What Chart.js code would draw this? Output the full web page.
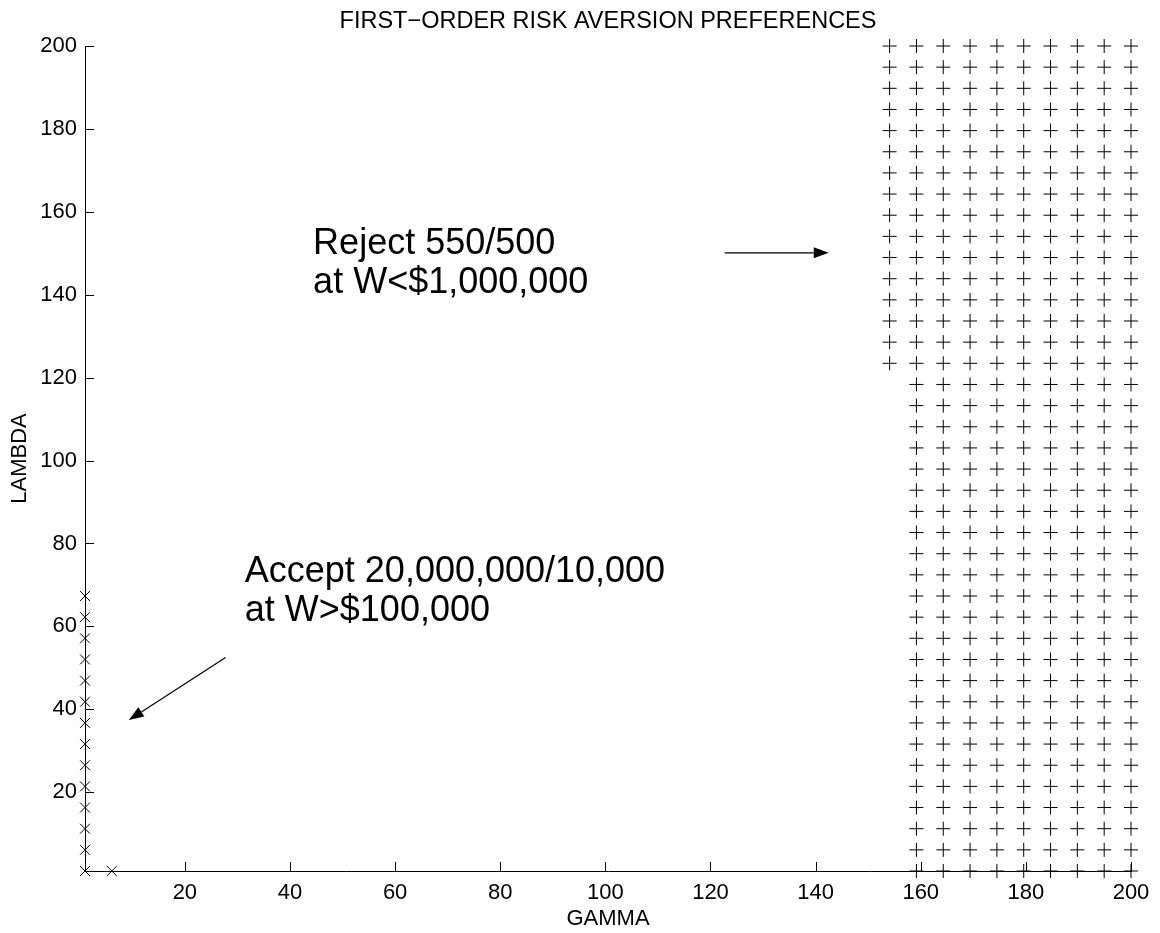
<!DOCTYPE html>
<html>
<head>
<meta charset="utf-8">
<title>First-order risk aversion preferences</title>
<script src="https://cdn.jsdelivr.net/npm/chart.js@4.4.1/dist/chart.umd.min.js"></script>
<style>
  html, body { margin: 0; padding: 0; background: #ffffff; }
  #wrap { width: 1160px; height: 933px; }
</style>
</head>
<body>
<div id="wrap"><canvas id="c" width="1160" height="933"></canvas></div>
<script>
// Parameter grid shared by both axes (GAMMA and LAMBDA levels)
const lambdaLevels = [
  1, 6.1026, 11.2051, 16.3077, 21.4103, 26.5128, 31.6154, 36.7179, 41.8205, 46.9231,
  52.0256, 57.1282, 62.2308, 67.3333, 72.4359, 77.5385, 82.6410, 87.7436, 92.8462, 97.9487,
  103.0513, 108.1538, 113.2564, 118.3590, 123.4615, 128.5641, 133.6667, 138.7692, 143.8718, 148.9744,
  154.0769, 159.1795, 164.2821, 169.3846, 174.4872, 179.5897, 184.6923, 189.7949, 194.8974, 200
];

// Reject region: GAMMA columns and the lowest LAMBDA rejected in each column
const rejectGamma      = [154.0769, 159.1795, 164.2821, 169.3846, 174.4872, 179.5897, 184.6923, 189.7949, 194.8974, 200];
const rejectLambdaFrom = [123.4615, 1, 1, 1, 1, 1, 1, 1, 1, 1];

// Accept region: GAMMA columns and the highest LAMBDA accepted in each column
const acceptGamma    = [1, 6.1026];
const acceptLambdaTo = [67.3333, 1];

const axisTicks = [20, 40, 60, 80, 100, 120, 140, 160, 180, 200];

const chartTitle = 'FIRST\u2212ORDER RISK AVERSION PREFERENCES';
const xTitle = 'GAMMA';
const yTitle = 'LAMBDA';

// Text notes and arrows, placed in (GAMMA, LAMBDA) units
const rejectNote   = ['Reject 550/500', 'at W<$1,000,000'];
const rejectNoteAt = [44.4, 149.8];
const rejectArrow  = [[122.7, 150.1], [142.5, 150.1]];

const acceptNote   = ['Accept 20,000,000/10,000', 'at W>$100,000'];
const acceptNoteAt = [31.4, 70.6];
const acceptArrow  = [[27.75, 52.5], [9.33, 37.4]];

const FONT = 'Liberation Sans, Arial, Helvetica, sans-serif';

const rejectPoints = rejectGamma.flatMap((g, i) =>
  lambdaLevels.filter(l => l >= rejectLambdaFrom[i] - 1e-6).map(l => ({ x: g, y: l })));
const acceptPoints = acceptGamma.flatMap((g, i) =>
  lambdaLevels.filter(l => l <= acceptLambdaTo[i] + 1e-6).map(l => ({ x: g, y: l })));

// Inward tick marks, title, notes and arrows
const decorations = {
  id: 'decorations',
  afterDraw(chart) {
    const ctx = chart.ctx;
    const xs = chart.scales.x, ys = chart.scales.y;
    const area = chart.chartArea;
    const tickLen = 9;

    ctx.save();
    ctx.strokeStyle = '#000';
    ctx.lineWidth = 1;
    ctx.beginPath();
    axisTicks.forEach(v => {
      const px = Math.round(xs.getPixelForValue(v)) + 0.5;
      ctx.moveTo(px, area.bottom);
      ctx.lineTo(px, area.bottom - tickLen);
      const py = Math.round(ys.getPixelForValue(v)) + 0.5;
      ctx.moveTo(area.left, py);
      ctx.lineTo(area.left + tickLen, py);
    });
    ctx.stroke();

    // title
    ctx.fillStyle = '#000';
    ctx.font = '23.5px ' + FONT;
    ctx.textAlign = 'center';
    ctx.textBaseline = 'alphabetic';
    ctx.fillText(chartTitle, (area.left + area.right) / 2, 28);

    // notes
    ctx.font = '36px ' + FONT;
    ctx.textAlign = 'left';
    const lineGap = 39;
    const note = (lines, at) => {
      const x = xs.getPixelForValue(at[0]);
      const y = ys.getPixelForValue(at[1]);
      lines.forEach((t, k) => ctx.fillText(t, x, y + k * lineGap));
    };
    note(rejectNote, rejectNoteAt);
    note(acceptNote, acceptNoteAt);

    // arrows
    const arrow = (seg) => {
      const x0 = xs.getPixelForValue(seg[0][0]), y0 = ys.getPixelForValue(seg[0][1]);
      const x1 = xs.getPixelForValue(seg[1][0]), y1 = ys.getPixelForValue(seg[1][1]);
      const ang = Math.atan2(y1 - y0, x1 - x0);
      const headL = 15, headW = 5.5;
      const bx = x1 - headL * Math.cos(ang), by = y1 - headL * Math.sin(ang);
      ctx.beginPath();
      ctx.moveTo(x0, y0);
      ctx.lineTo(bx, by);
      ctx.lineWidth = 1.2;
      ctx.stroke();
      ctx.beginPath();
      ctx.moveTo(x1, y1);
      ctx.lineTo(bx + headW * Math.sin(ang), by - headW * Math.cos(ang));
      ctx.lineTo(bx - headW * Math.sin(ang), by + headW * Math.cos(ang));
      ctx.closePath();
      ctx.fill();
    };
    arrow(rejectArrow);
    arrow(acceptArrow);
    ctx.restore();
  }
};

const fixTicks = axis => { axis.ticks = axisTicks.map(v => ({ value: v })); };

new Chart(document.getElementById('c'), {
  type: 'scatter',
  data: {
    datasets: [
      {
        label: 'Reject',
        data: rejectPoints,
        pointStyle: 'cross',
        pointRadius: 7,
        pointHoverRadius: 7,
        borderColor: '#000',
        backgroundColor: '#000',
        pointBorderWidth: 1,
        clip: false
      },
      {
        label: 'Accept',
        data: acceptPoints,
        pointStyle: 'crossRot',
        pointRadius: 7,
        pointHoverRadius: 7,
        borderColor: '#000',
        backgroundColor: '#000',
        pointBorderWidth: 1,
        clip: false
      }
    ]
  },
  options: {
    responsive: false,
    animation: false,
    devicePixelRatio: 1,
    events: [],
    layout: { padding: { top: 46, right: 29, left: 0, bottom: 0 } },
    plugins: {
      legend: { display: false },
      title: { display: false },
      tooltip: { enabled: false }
    },
    scales: {
      x: {
        type: 'linear',
        min: 1,
        max: 200,
        afterBuildTicks: fixTicks,
        afterFit: s => { s.height = 62; },
        grid: { display: false, drawTicks: false },
        border: { display: true, color: '#000', width: 1 },
        ticks: {
          color: '#000',
          font: { family: FONT, size: 22 },
          padding: 9,
          maxRotation: 0,
          autoSkip: false
        },
        title: {
          display: true,
          text: xTitle,
          color: '#000',
          font: { family: FONT, size: 22 },
          padding: { top: 0, bottom: 1 }
        }
      },
      y: {
        type: 'linear',
        min: 1,
        max: 200,
        afterBuildTicks: fixTicks,
        afterFit: s => { s.width = 85; },
        grid: { display: false, drawTicks: false },
        border: { display: true, color: '#000', width: 1 },
        ticks: {
          color: '#000',
          font: { family: FONT, size: 22 },
          padding: 8,
          autoSkip: false
        },
        title: {
          display: true,
          text: yTitle,
          color: '#000',
          font: { family: FONT, size: 22 },
          padding: { top: 7, bottom: 0 }
        }
      }
    }
  },
  plugins: [decorations]
});
</script>
</body>
</html>
